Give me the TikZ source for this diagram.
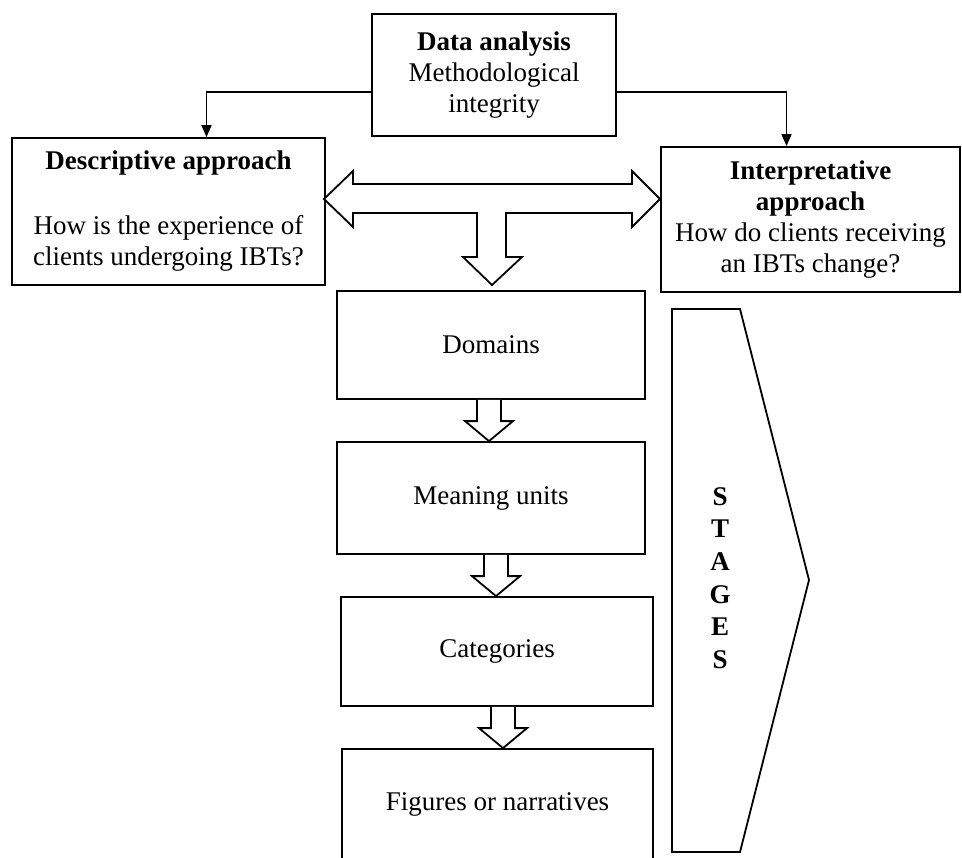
\documentclass[tikz,border=0pt]{standalone}
\usepackage{fontspec}
\setmainfont{Liberation Serif}
\usetikzlibrary{arrows.meta,calc}

\tikzset{
  box/.style={draw, line width=0.9pt, align=center, inner sep=2pt,
    font=\fontsize{13.5}{15.5}\selectfont},
  link/.style={line width=0.8pt, -{Triangle[length=6pt,width=5pt]}},
  hollow/.style={draw, line width=0.9pt, fill=white, line join=miter},
}

\begin{document}
\begin{tikzpicture}[x=0.5pt, y=-0.5pt]
  \useasboundingbox (0,0) rectangle (962,857);
  % boxes
  \node[box, minimum width=122pt, minimum height=61pt] (data) at (494,75)
    {\textbf{Data analysis}\\Methodological\\integrity};
  \node[box, minimum width=156.5pt, minimum height=73.5pt] (desc) at (168.5,211.5)
    {\textbf{Descriptive approach}\\[17pt]How is the experience of\\clients undergoing IBTs?};
  \node[box, minimum width=149.5pt, minimum height=72.5pt] (interp) at (810.5,219.5)
    {\textbf{Interpretative}\\\textbf{approach}\\How do clients receiving\\an IBTs change?};
  \node[box, minimum width=154pt, minimum height=54pt] (dom) at (491,345) {Domains};
  \node[box, minimum width=154pt, minimum height=56pt] (mean) at (491,498) {Meaning units};
  \node[box, minimum width=156pt, minimum height=54.5pt] (cat) at (497,651.5) {Categories};
  \node[box, minimum width=155.5pt, minimum height=55pt] (fig) at (497.5,804) {Figures or narratives};

  % from data analysis to both approaches
  \draw[link] ([yshift=-8.5pt]data.west) -| ([xshift=19pt]desc.north);
  \draw[link] ([yshift=-8.5pt]data.east) -| ([xshift=-12pt]interp.north);

  % double arrow with branch down
  \draw[hollow] (324,199) -- (353,171) -- (353,184) -- (632,184) -- (632,171)
    -- (660,199) -- (632,227) -- (632,213) -- (506,213) -- (506,257)
    -- (522,257) -- (492,285) -- (463,257) -- (477,257) -- (477,213)
    -- (353,213) -- (353,227) -- cycle;

  % block arrows between the steps
  \foreach \a/\b/\dx in {dom/mean/-2, mean/cat/5, cat/fig/6}
    \draw[hollow] let \p1=([xshift=\dx*0.5pt]\a.south), \p2=(\b.north) in
      (\x1-6pt,\y1) -- (\x1-6pt,\y2+10pt) -- (\x1-12pt,\y2+10pt) -- (\x1,\y2)
      -- (\x1+12pt,\y2+10pt) -- (\x1+6pt,\y2+10pt) -- (\x1+6pt,\y1);

  % stages
  \draw[line width=0.9pt] (672,309) -- (740,309) -- (809,580) -- (740,852)
    -- (672,852) -- cycle;
  \node[font=\fontsize{13.5}{16.3}\selectfont\bfseries, align=center] (stages) at (720,578)
    {S\\T\\A\\G\\E\\S};
\end{tikzpicture}
\end{document}
